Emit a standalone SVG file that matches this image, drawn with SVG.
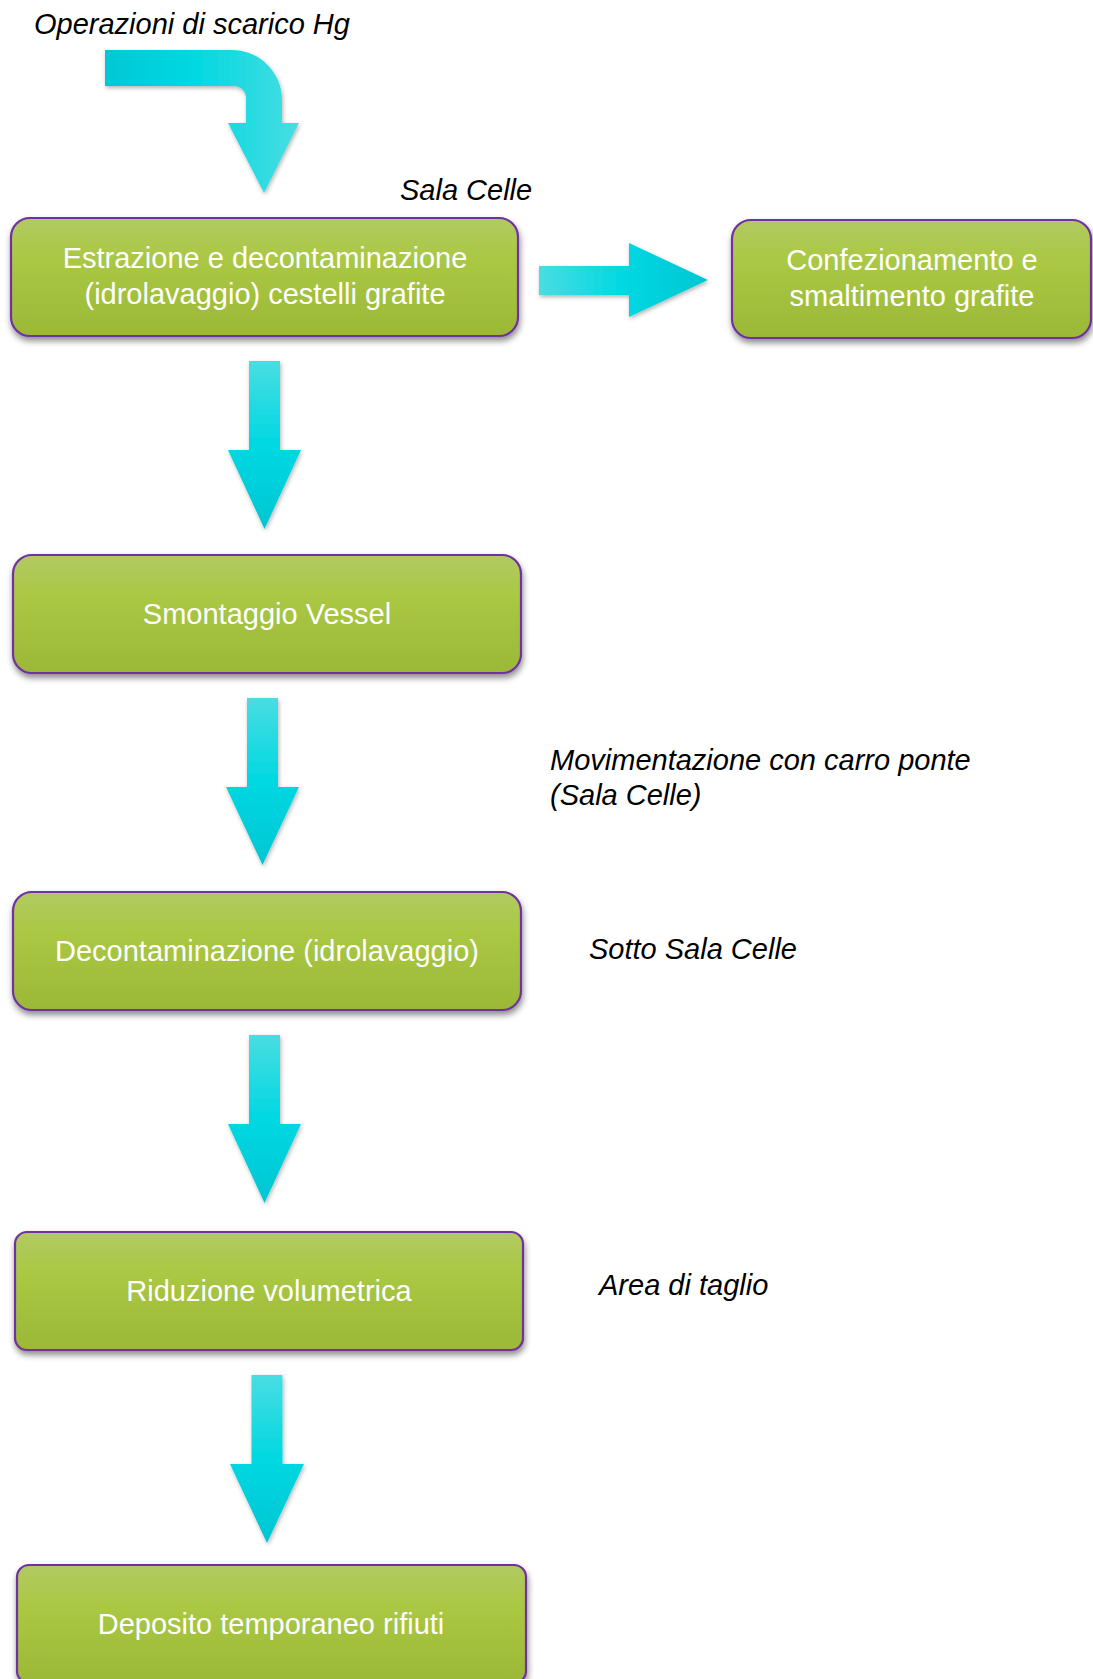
<svg xmlns="http://www.w3.org/2000/svg" width="1093" height="1679" viewBox="0 0 1093 1679">
<style>
.box{stroke:#7030a0;stroke-width:2.2;fill:url(#gGreen);filter:url(#shBox)}
.bt{font-family:"Liberation Sans",Arial,sans-serif;font-size:29px;fill:#ffffff;text-anchor:middle}
.lab{font-family:"Liberation Sans",Arial,sans-serif;font-size:29px;font-style:italic;fill:#000000}
.arrV{fill:url(#gCyanV);filter:url(#shArr)}
</style>
<defs>
<linearGradient id="gGreen" x1="0" y1="0" x2="0" y2="1">
<stop offset="0" stop-color="#b2ca62"/>
<stop offset="0.35" stop-color="#aac843"/>
<stop offset="1" stop-color="#9bb837"/>
</linearGradient>
<linearGradient id="gCyanV" x1="0" y1="0" x2="0" y2="1">
<stop offset="0" stop-color="#48dde2"/>
<stop offset="0.5" stop-color="#00d8e2"/>
<stop offset="1" stop-color="#00c6d3"/>
</linearGradient>
<linearGradient id="gCyanR" x1="0" y1="0" x2="1" y2="0">
<stop offset="0" stop-color="#48dde2"/>
<stop offset="0.5" stop-color="#00d8e2"/>
<stop offset="1" stop-color="#00c6d3"/>
</linearGradient>
<linearGradient id="gCyanB" x1="0" y1="0" x2="1" y2="0">
<stop offset="0" stop-color="#00c8d5"/>
<stop offset="0.45" stop-color="#00d8e2"/>
<stop offset="1" stop-color="#48dde2"/>
</linearGradient>
<filter id="shBox" x="-5%" y="-10%" width="112%" height="130%">
<feDropShadow dx="1" dy="4" stdDeviation="3" flood-color="#000000" flood-opacity="0.45"/>
</filter>
<filter id="shArr" x="-20%" y="-10%" width="140%" height="130%">
<feDropShadow dx="1" dy="2" stdDeviation="2" flood-color="#000000" flood-opacity="0.3"/>
</filter>
</defs>
<rect width="1093" height="1679" fill="#ffffff"/>

<g id="connectors">
<path id="arrow-start" fill="url(#gCyanB)" filter="url(#shArr)" d="M105,50 H232 A50,50 0 0 1 282,100 V123 H299 L264,193 L228,123 H246 V98 A12,12 0 0 0 234,86 H105 Z"/>
<path id="arrow-right" fill="url(#gCyanR)" filter="url(#shArr)" d="M539,266 H629 V243 L708,280 L629,317 V295 H539 Z"/>
<path id="arrow-1" class="arrV" d="M249,361 H280 V450 H301 L264.5,529 L228,450 H249 Z"/>
<path id="arrow-2" class="arrV" d="M247,698 H278 V787 H299 L262.5,865 L226,787 H247 Z"/>
<path id="arrow-3" class="arrV" d="M249,1035 H280 V1124 H301 L264.5,1203 L228,1124 H249 Z"/>
<path id="arrow-4" class="arrV" d="M251.5,1375 H282.5 V1464 H304 L267,1543 L230,1464 H251.5 Z"/>
</g>

<g id="label-scarico"><text class="lab" x="34" y="34">Operazioni di scarico Hg</text></g>
<g id="label-salacelle"><text class="lab" x="400" y="200">Sala Celle</text></g>
<g id="label-movimentazione"><text class="lab" x="550" y="770">Movimentazione con carro ponte</text><text class="lab" x="550" y="805">(Sala Celle)</text></g>
<g id="label-sotto"><text class="lab" x="589" y="959">Sotto Sala Celle</text></g>
<g id="label-area"><text class="lab" x="599" y="1295">Area di taglio</text></g>

<g id="node-estrazione">
<rect class="box" x="11" y="218" width="507" height="118" rx="19"/>
<text class="bt" x="265" y="268">Estrazione e decontaminazione</text>
<text class="bt" x="265" y="304">(idrolavaggio) cestelli grafite</text>
</g>
<g id="node-confezionamento">
<rect class="box" x="732" y="220" width="359" height="118" rx="19"/>
<text class="bt" x="912" y="270">Confezionamento e</text>
<text class="bt" x="912" y="306">smaltimento grafite</text>
</g>
<g id="node-smontaggio">
<rect class="box" x="13" y="555" width="508" height="118" rx="19"/>
<text class="bt" x="267" y="624">Smontaggio Vessel</text>
</g>
<g id="node-decontaminazione">
<rect class="box" x="13" y="892" width="508" height="118" rx="19"/>
<text class="bt" x="267" y="961">Decontaminazione (idrolavaggio)</text>
</g>
<g id="node-riduzione">
<rect class="box" x="15" y="1232" width="508" height="118" rx="12"/>
<text class="bt" x="269" y="1301">Riduzione volumetrica</text>
</g>
<g id="node-deposito">
<rect class="box" x="17" y="1565" width="509" height="118" rx="12"/>
<text class="bt" x="271" y="1634">Deposito temporaneo rifiuti</text>
</g>
</svg>
